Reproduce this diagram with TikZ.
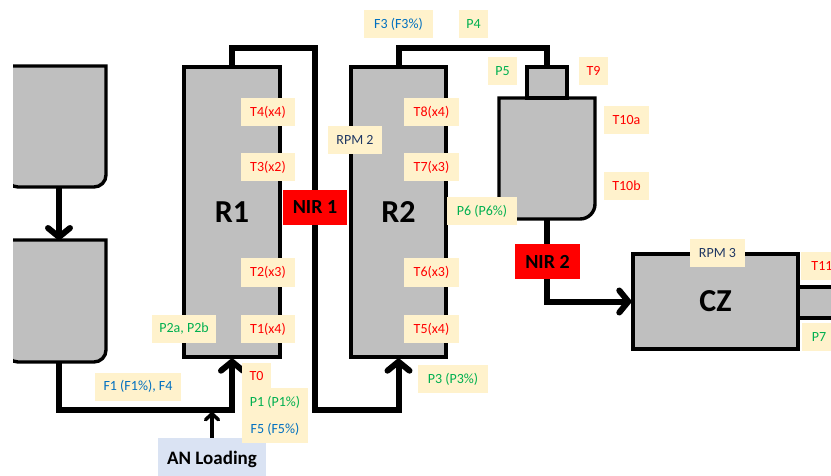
\documentclass[tikz,border=0pt]{standalone}
\usepackage{fontspec}
\setmainfont{Carlito}
\usetikzlibrary{arrows.meta}
\definecolor{gfill}{HTML}{BFBFBF}
\definecolor{beige}{HTML}{FFF2CC}
\definecolor{tred}{HTML}{FF0000}
\definecolor{tgreen}{HTML}{00B050}
\definecolor{tblue}{HTML}{0070C0}
\definecolor{tnavy}{HTML}{203864}
\definecolor{anblue}{HTML}{DAE3F3}
\begin{document}
\begin{tikzpicture}[x=1pt,y=-1pt,
  vessel/.style={draw=black, fill=gfill, line width=3.4pt, inner sep=0pt},
  lab/.style={fill=beige, inner sep=0pt, minimum height=28pt, font=\fontsize{14}{16}\selectfont},
  pipe/.style={line width=6pt},
  parrow/.style={pipe, -{Straight Barb[round,length=9pt,width=22pt]}},
  nir/.style={fill=tred, minimum width=64pt, minimum height=35pt, inner sep=0pt, font=\bfseries\fontsize{20}{22}\selectfont},
  big/.style={font=\bfseries\fontsize{32}{34}\selectfont}]
\useasboundingbox (0,0) rectangle (831,476);
\clip (0,0) rectangle (831,476);

% feed tanks (left edge cut off)
\begin{scope}
\clip (13,0) rectangle (200,476);
\filldraw[vessel] (6,66) -- (106,66) -- (106,175) .. controls (106,181.6) and (100.6,187) .. (94,187)
  -- (18,187) .. controls (11.4,187) and (6,181.6) .. (6,175) -- cycle;
\filldraw[vessel] (6,240) -- (106,240) -- (106,350) .. controls (106,356.6) and (100.6,362) .. (94,362)
  -- (18,362) .. controls (11.4,362) and (6,356.6) .. (6,350) -- cycle;
\end{scope}
\coordinate (tk1b) at (59,187);
\coordinate (tk2t) at (59,240);
\coordinate (tk2b) at (59,362);

% reactors
\node[vessel, big, minimum width=96pt, minimum height=290pt] (R1) at (232,212) {R1};
\node[vessel, big, minimum width=95pt, minimum height=290pt] (R2) at (398.5,212) {R2};

% separator
\filldraw[vessel] (499,98) -- (595,98) -- (595,204) .. controls (595,212.3) and (588.3,219) .. (580,219)
  -- (499,219) -- cycle;
\node[vessel, minimum width=40pt, minimum height=31pt] (neck) at (547,82.5) {};
\coordinate (sepb) at (547,219);

% CZ
\filldraw[vessel] (798,287) rectangle (850,318);
\node[vessel, big, minimum width=165pt, minimum height=95pt] (CZ) at (715.5,301.5) {CZ};

% AN loading
\node[fill=anblue, inner sep=0pt, minimum width=108pt, minimum height=42pt,
  font=\bfseries\fontsize{19}{21}\selectfont] (AN) at (212,459) {AN Loading};

% helper coordinates
\coordinate (top1) at (0,48);
\coordinate (bot) at (0,410);
\coordinate (nirx) at (315,0);
\coordinate (antip) at (212,412);

% pipes
\draw[parrow] (tk1b) -- (tk2t);
\draw[parrow] (tk2b) |- (R1.south |- bot) -- (R1.south);
\draw[line width=3.5pt, -{Straight Barb[round,length=6pt,width=13pt]}] (AN.north) -- (antip);
\draw[parrow] (R1.north) -- (R1.north |- top1) -- (nirx |- top1) -- (nirx |- bot) -| (R2.south);
\draw[pipe] (R2.north) -- (R2.north |- top1) -| (neck.north);
\draw[parrow] (sepb) |- (CZ.west);

% NIR boxes
\node[nir] (NIR1) at (315,207.5) {NIR 1};
\node[nir, minimum width=65pt] (NIR2) at (547.5,261.5) {NIR 2};

% labels
\node[lab, text=tred, minimum width=54pt] (T4) at (268,112) {T4(x4)};
\node[lab, text=tred, minimum width=54pt] (T3) at (268,167) {T3(x2)};
\node[lab, text=tred, minimum width=54pt] (T2) at (268,272.5) {T2(x3)};
\node[lab, text=tred, minimum width=54pt] (T1) at (268,329) {T1(x4)};
\node[lab, text=tgreen, minimum width=64pt] (P2) at (184,329) {P2a, P2b};
\node[lab, text=tblue, minimum width=86pt] (F1) at (138,386.5) {F1 (F1\%), F4};
\node[lab, text=tred, minimum width=29pt, minimum height=27pt] (T0) at (256.5,376.5) {T0};
\node[lab, text=tgreen, minimum width=66pt] (P1) at (275,402) {P1 (P1\%)};
\node[lab, text=tblue, minimum width=66pt, minimum height=27pt] (F5) at (275,429.5) {F5 (F5\%)};
\node[lab, text=tnavy, minimum width=54pt] (RPM2) at (355,140) {RPM 2};
\node[lab, text=tblue, minimum width=69pt] (F3) at (398.5,24.5) {F3 (F3\%)};
\node[lab, text=tgreen, minimum width=29pt] (P4) at (473.5,24.5) {P4};
\node[lab, text=tgreen, minimum width=29pt] (P5) at (502.5,71) {P5};
\node[lab, text=tred, minimum width=29pt] (T9) at (593.5,71) {T9};
\node[lab, text=tred, minimum width=45pt] (T10a) at (626.5,120.5) {T10a};
\node[lab, text=tred, minimum width=45pt] (T10b) at (626.5,186) {T10b};
\node[lab, text=tred, minimum width=55pt] (T8) at (431.5,112) {T8(x4)};
\node[lab, text=tred, minimum width=55pt] (T7) at (431.5,167) {T7(x3)};
\node[lab, text=tgreen, minimum width=70pt] (P6) at (482,211) {P6 (P6\%)};
\node[lab, text=tred, minimum width=55pt] (T6) at (431.5,272.5) {T6(x3)};
\node[lab, text=tred, minimum width=55pt] (T5) at (431.5,329) {T5(x4)};
\node[lab, text=tgreen, minimum width=70pt] (P3) at (453,379) {P3 (P3\%)};
\node[lab, text=tnavy, minimum width=55pt] (RPM3) at (717.5,253.5) {RPM 3};
\node[lab, text=tred, minimum width=42pt] (T11) at (822,266) {T11};
\node[lab, text=tgreen, minimum width=34pt] (P7) at (819,337) {P7};
\end{tikzpicture}
\end{document}
